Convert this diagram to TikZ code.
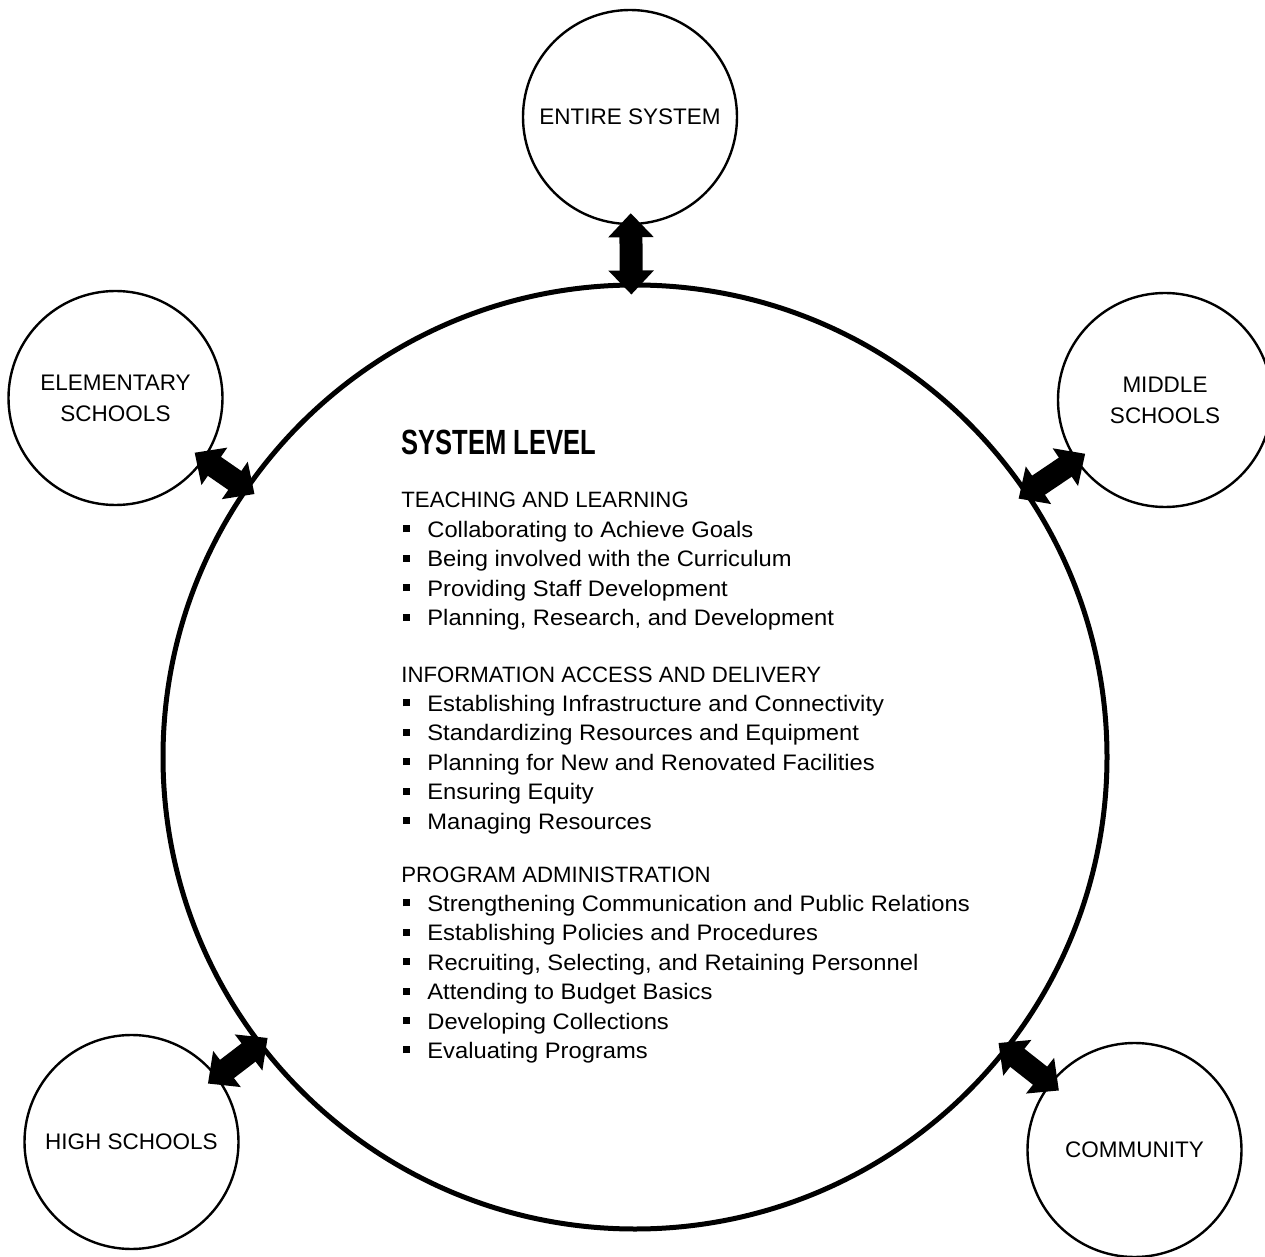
\documentclass[tikz,border=0pt]{standalone}
\usepackage{fontspec}
\setmainfont{Liberation Sans}
\newfontfamily\itemfont[FakeStretch=1.06]{Liberation Sans}
\usetikzlibrary{arrows.meta}
\newcommand{\bulsq}{\hspace*{0.6pt}\raisebox{2.5pt}{\rule{3.5pt}{3.5pt}}\hspace{8.9pt}}
\tikzset{
  bigcirc/.style={circle, draw, line width=2.5pt, minimum size=472pt, inner sep=0pt},
  smallcirc/.style={circle, draw, line width=1.2pt, minimum size=107pt, inner sep=0pt,
    align=center, font=\fontsize{11.25}{15.5}\selectfont},
  bigarrow/.style={line width=11.5pt, {Triangle[width=22pt,length=12pt]}-{Triangle[width=22pt,length=12pt]},
    shorten <=-6pt, shorten >=-6pt},
  headtxt/.style={anchor=base west, inner sep=0pt, font=\fontsize{17.5}{20}\selectfont},
  sectxt/.style={anchor=base west, inner sep=0pt, font=\fontsize{11.1}{14}\selectfont},
  itemtxt/.style={anchor=base west, inner sep=0pt, font=\itemfont\fontsize{11.2}{14}\selectfont,
    execute at begin node=\bulsq},
}
\begin{document}
\begin{tikzpicture}[x=0.5pt,y=-0.5pt]
\useasboundingbox (0,0) rectangle (1265,1257);
\node[bigcirc] (sys) at (635,757) {};
\node[smallcirc] (es) at (630,117) {ENTIRE SYSTEM};
\node[smallcirc] (el) at (115.5,398) {ELEMENTARY\\SCHOOLS};
\node[smallcirc] (ms) at (1165,400) {MIDDLE\\SCHOOLS};
\node[smallcirc] (hs) at (131.5,1142) {HIGH SCHOOLS};
\node[smallcirc] (cm) at (1134.5,1150) {COMMUNITY};
\draw[bigarrow] (es) -- (sys);
\draw[bigarrow] (el) -- (sys);
\draw[bigarrow] (ms) -- (sys);
\draw[bigarrow] (hs) -- (sys);
\draw[bigarrow] (cm) -- (sys);
\node[headtxt] (h) at (401,455) {\scalebox{0.73}[1]{\bfseries SYSTEM LEVEL}};
\node[sectxt] (s1) at (401,508) {TEACHING AND LEARNING};
\node[itemtxt] (a1) at (401,537.4) {Collaborating to Achieve Goals};
\node[itemtxt] (a2) at (401,566.8) {Being involved with the Curriculum};
\node[itemtxt] (a3) at (401,596.2) {Providing Staff Development};
\node[itemtxt] (a4) at (401,625.6) {Planning, Research, and Development};
\node[sectxt] (s2) at (401,682) {INFORMATION ACCESS AND DELIVERY};
\node[itemtxt] (b1) at (401,711.4) {Establishing Infrastructure and Connectivity};
\node[itemtxt] (b2) at (401,740.8) {Standardizing Resources and Equipment};
\node[itemtxt] (b3) at (401,770.2) {Planning for New and Renovated Facilities};
\node[itemtxt] (b4) at (401,799.6) {Ensuring Equity};
\node[itemtxt] (b5) at (401,829) {Managing Resources};
\node[sectxt] (s3) at (401,882) {PROGRAM ADMINISTRATION};
\node[itemtxt] (c1) at (401,911.4) {Strengthening Communication and Public Relations};
\node[itemtxt] (c2) at (401,940.8) {Establishing Policies and Procedures};
\node[itemtxt] (c3) at (401,970.2) {Recruiting, Selecting, and Retaining Personnel};
\node[itemtxt] (c4) at (401,999.6) {Attending to Budget Basics};
\node[itemtxt] (c5) at (401,1029) {Developing Collections};
\node[itemtxt] (c6) at (401,1058.4) {Evaluating Programs};
\end{tikzpicture}
\end{document}
